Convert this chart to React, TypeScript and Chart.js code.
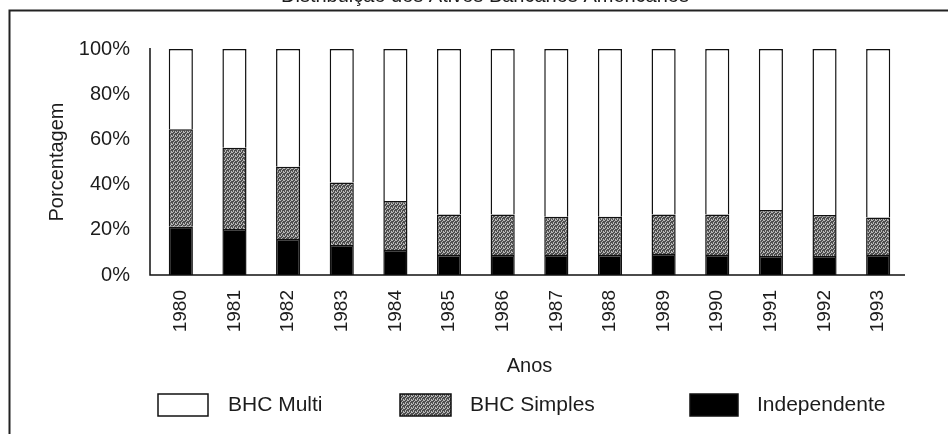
import React, { useEffect, useRef } from "react";
import { Chart, registerables } from "chart.js";

Chart.register(...registerables);

const chartTitle = "Distribuição dos Ativos Bancários Americanos";
const years = ["1980", "1981", "1982", "1983", "1984", "1985", "1986", "1987", "1988", "1989", "1990", "1991", "1992", "1993"];
const independente = [21.4, 20.3, 15.9, 13.3, 11.1, 8.8, 8.8, 8.8, 8.8, 9.3, 8.8, 8.4, 8.4, 8.8];
const bhcSimples = [43.1, 36.0, 32.0, 27.6, 21.6, 18.0, 18.0, 17.0, 17.0, 17.5, 18.0, 20.4, 18.1, 16.6];
const bhcMulti = [35.5, 43.7, 52.1, 59.1, 67.3, 73.2, 73.2, 74.2, 74.2, 73.2, 73.2, 71.2, 73.5, 74.6];
const yTicks = [0, 20, 40, 60, 80, 100];
const legendOrder = ["BHC Multi", "BHC Simples", "Independente"];

const FONT = "'Liberation Sans', Arial, Helvetica, sans-serif";
const INK = "#1c1c1c";

function makeGreyPattern(): CanvasPattern | string {
  const c = document.createElement("canvas");
  c.width = 4;
  c.height = 4;
  const g = c.getContext("2d");
  if (!g) return "#808080";
  g.fillStyle = "#4e4e4e";
  g.fillRect(0, 0, 4, 4);
  g.fillStyle = "#b8b8b8";
  const light = [[0, 0], [2, 1], [1, 2], [3, 3], [3, 0], [1, 3]];
  for (const [x, y] of light) g.fillRect(x, y, 1, 1);
  const p = g.createPattern(c, "repeat");
  return p || "#808080";
}

export default function App() {
  const ref = useRef<HTMLCanvasElement | null>(null);

  useEffect(() => {
    document.body.style.margin = "0";
    const canvas = ref.current;
    if (!canvas) return;
    const grey = makeGreyPattern();

    const framePlugin = {
      id: "frame",
      beforeDraw(chart: any) {
        const ctx = chart.ctx;
        ctx.save();
        ctx.fillStyle = "#fff";
        ctx.fillRect(0, 0, chart.width, chart.height);
        ctx.strokeStyle = "#222";
        ctx.lineWidth = 2;
        ctx.beginPath();
        ctx.moveTo(9.5, chart.height);
        ctx.lineTo(9.5, 10.5);
        ctx.lineTo(chart.width, 10.5);
        ctx.stroke();
        ctx.fillStyle = INK;
        ctx.font = `20px ${FONT}`;
        ctx.textAlign = "center";
        ctx.textBaseline = "alphabetic";
        ctx.fillText(chartTitle, 485, 1.5);
        ctx.restore();
      },
      afterDatasetsDraw(chart: any) {
        const ctx = chart.ctx;
        const a = chart.chartArea;
        ctx.save();
        ctx.strokeStyle = "#111";
        ctx.lineWidth = 1.5;
        ctx.beginPath();
        ctx.moveTo(a.left - 4, a.top - 1);
        ctx.lineTo(a.left - 4, a.bottom);
        ctx.lineTo(a.right, a.bottom);
        ctx.stroke();
        ctx.restore();
      },
      afterDraw(chart: any) {
        const ctx = chart.ctx;
        const items = [
          { box: 158, w: 50, text: 228 },
          { box: 400, w: 51, text: 470 },
          { box: 690, w: 48, text: 757 },
        ];
        ctx.save();
        ctx.font = `21px ${FONT}`;
        ctx.textBaseline = "middle";
        ctx.textAlign = "left";
        legendOrder.forEach((label, i) => {
          const ds = chart.data.datasets.find((d: any) => d.label === label);
          const it = items[i];
          ctx.fillStyle = ds.backgroundColor;
          ctx.fillRect(it.box, 394, it.w, 22);
          ctx.strokeStyle = "#111";
          ctx.lineWidth = 1.5;
          ctx.strokeRect(it.box, 394, it.w, 22);
          ctx.fillStyle = INK;
          ctx.fillText(label, it.text, 405);
        });
        ctx.restore();
      },
    };

    const chart = new Chart(canvas, {
      type: "bar",
      data: {
        labels: years,
        datasets: [
          { label: "Independente", data: independente, backgroundColor: "#000", borderColor: "#111", borderWidth: 1.5 },
          { label: "BHC Simples", data: bhcSimples, backgroundColor: grey as any, borderColor: "#111", borderWidth: 1.5 },
          { label: "BHC Multi", data: bhcMulti, backgroundColor: "#fff", borderColor: "#111", borderWidth: 1.5 },
        ],
      },
      options: {
        animation: false,
        responsive: false,
        devicePixelRatio: 1,
        layout: { padding: { top: 49, right: 43, left: 0, bottom: 0 } },
        datasets: { bar: { categoryPercentage: 1, barPercentage: 0.45 } },
        plugins: { legend: { display: false }, tooltip: { enabled: false }, title: { display: false } },
        scales: {
          x: {
            stacked: true,
            grid: { display: false },
            border: { display: false },
            ticks: {
              autoSkip: false,
              maxRotation: 90,
              minRotation: 90,
              padding: 7,
              color: INK,
              font: { family: FONT, size: 19 },
            },
            title: {
              display: true,
              text: "Anos",
              color: INK,
              font: { family: FONT, size: 20 },
              padding: { top: 0, bottom: 56 },
            },
            afterFit(scale: any) {
              scale.height = 159;
            },
          },
          y: {
            stacked: true,
            min: 0,
            max: 100,
            grid: { display: false },
            border: { display: false },
            afterBuildTicks(scale: any) {
              scale.ticks = yTicks.map((v) => ({ value: v }));
            },
            ticks: {
              padding: 16,
              color: INK,
              font: { family: FONT, size: 20 },
              callback: (v: any) => `${v}%`,
            },
            title: {
              display: true,
              text: "Porcentagem",
              color: INK,
              font: { family: FONT, size: 20 },
              padding: { top: 45, bottom: 0 },
            },
            afterFit(scale: any) {
              scale.width = 154;
            },
          },
        },
      },
      plugins: [framePlugin],
    });

    return () => chart.destroy();
  }, []);

  return (
    <div style={{ width: 948, height: 434 }}>
      <canvas ref={ref} width={948} height={434} style={{ display: "block" }} />
    </div>
  );
}
